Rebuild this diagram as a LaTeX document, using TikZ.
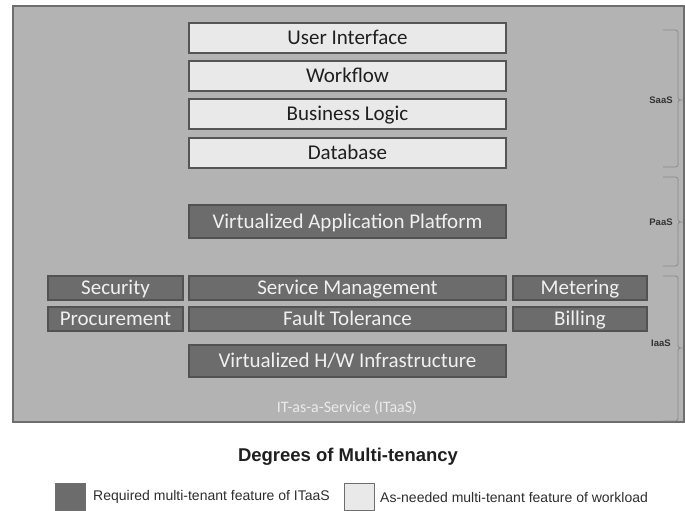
\documentclass[tikz,border=0pt]{standalone}
\usepackage{fontspec}
\setmainfont{Carlito}
\newfontfamily\arialf{Liberation Sans}
\definecolor{outerfill}{HTML}{B3B3B3}
\definecolor{outerline}{HTML}{6E6E6E}
\definecolor{darkfill}{HTML}{6C6C6C}
\definecolor{darkline}{HTML}{525252}
\definecolor{lightfill}{HTML}{E9E9E9}
\definecolor{lightline}{HTML}{555555}
\definecolor{bracecol}{HTML}{8A8A8A}
\begin{document}
\begin{tikzpicture}[x=1pt,y=-1pt,
  box/.style={draw, line width=1.4pt, inner sep=0pt, text height=14pt, text depth=1pt, font=\fontsize{21}{23}\selectfont},
  lightbox/.style={box, fill=lightfill, draw=lightline, text=black!88},
  darkbox/.style={box, fill=darkfill, draw=darkline, text=white!94!black},
  wide/.style={minimum width=317, minimum height=30},
  side/.style={minimum width=135, minimum height=24},
  tag/.style={font=\arialf\bfseries\fontsize{9.5}{10}\selectfont, text=black!80, inner sep=0pt},
  bracestyle/.style={draw=bracecol, line width=0.8pt, rounded corners=2.5pt},
  legsq/.style={draw=outerline, line width=0.8pt, minimum width=30, minimum height=27, inner sep=0pt},
  legtext/.style={font=\arialf\fontsize{14}{16}\selectfont, text=black!82, anchor=west, inner sep=0pt}
]
\useasboundingbox (0,0) rectangle (685,511);
% outer panel
\node[draw=outerline, fill=outerfill, line width=1.5pt, minimum width=671, minimum height=416, inner sep=0pt] (panel) at (348.5,214) {};

% SaaS layer
\node[lightbox, wide] (ui) at (347.5,38) {User Interface};
\node[lightbox, wide] (wf) at (347.5,76) {Workflow};
\node[lightbox, wide] (bl) at (347.5,114) {Business Logic};
\node[lightbox, wide] (db) at (347.5,153) {Database};

% PaaS layer
\node[darkbox, wide, minimum height=33] (vap) at (347.5,221.5) {Virtualized Application Platform};

% IaaS layer
\node[darkbox, side] (sec) at (115.5,288) {Security};
\node[darkbox, wide, minimum height=24] (sm) at (347.5,288) {Service Management};
\node[darkbox, side, minimum width=134] (met) at (580,288) {Metering};
\node[darkbox, side] (proc) at (115.5,319) {Procurement};
\node[darkbox, wide, minimum height=24] (ft) at (347.5,319) {Fault Tolerance};
\node[darkbox, side, minimum width=134] (bill) at (580,319) {Billing};
\node[darkbox, wide, minimum height=32] (vhw) at (347.5,361) {Virtualized H/W Infrastructure};

\node[font=\fontsize{16}{18}\selectfont, text=white!92!black] (itaas) at (347,408) {IT-as-a-Service (ITaaS)};

% braces
\draw[bracestyle] (663,30) -- (678,30) -- (678,100) -- (684,100) -- (678,100) -- (678,167) -- (663,167);
\draw[bracestyle] (663,177) -- (678,177) -- (678,222) -- (684,222) -- (678,222) -- (678,266) -- (663,266);
\draw[bracestyle] (663,276) -- (678,276) -- (678,348) -- (684,348) -- (678,348) -- (678,421) -- (663,421);
\node[tag] (saas) at (661,100) {SaaS};
\node[tag] (paas) at (661,222) {PaaS};
\node[tag] (iaas) at (661,343) {IaaS};

% title and legend
\node[font=\arialf\bfseries\fontsize{18.5}{20}\selectfont, text=black!88] (title) at (348,457) {Degrees of Multi-tenancy};
\node[legsq, fill=darkfill] (lgd) at (70,497) {};
\node[legtext] (lgdt) at (93,497) {Required multi-tenant feature of ITaaS};
\node[legsq, fill=lightfill] (lgl) at (359.5,497) {};
\node[legtext] (lglt) at (380,497) {As-needed multi-tenant feature of workload};
\end{tikzpicture}
\end{document}
